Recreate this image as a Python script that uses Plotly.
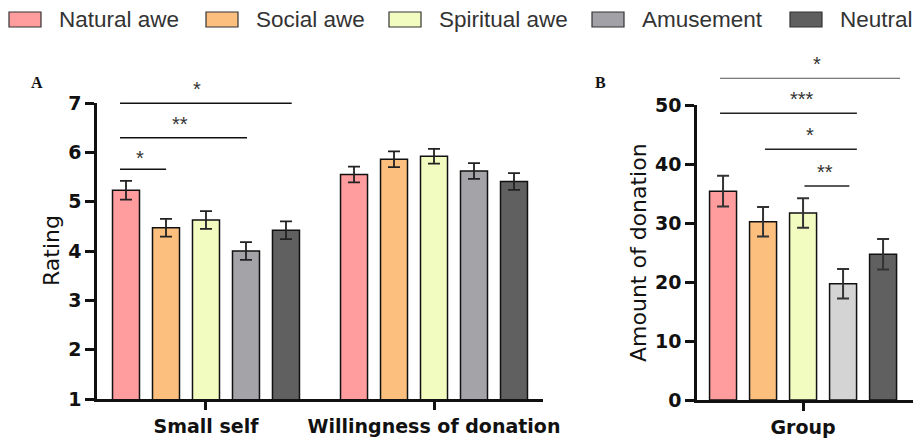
import plotly.graph_objects as go

# ---------------- data ----------------
conditions = ["Natural awe", "Social awe", "Spiritual awe", "Amusement", "Neutral"]
groups_a = ["Small self", "Willingness of donation"]
small_self = [5.23, 4.47, 4.63, 4.00, 4.42]
small_self_se = [0.19, 0.18, 0.18, 0.18, 0.18]
willingness = [5.55, 5.86, 5.92, 5.62, 5.41]
willingness_se = [0.16, 0.16, 0.15, 0.16, 0.17]
groups_b = ["Group"]
donation = [35.4, 30.2, 31.7, 19.7, 24.7]
donation_se = [2.6, 2.5, 2.5, 2.5, 2.6]
yticks_a = [1, 2, 3, 4, 5, 6, 7]
yticks_b = [0, 10, 20, 30, 40, 50]

colors_a = ["#FF9C9E", "#FDBF7E", "#F3FCC0", "#A4A3A8", "#606060"]
colors_b = ["#FF9C9E", "#FDBF7E", "#F3FCC0", "#D4D4D4", "#606060"]

# significance brackets: (x0, x1, y of line, label) in axis units
sig_a = [(-0.377, -0.175, 5.656, "*"),
         (-0.377, 0.180, 6.297, "**"),
         (-0.377, 0.376, 6.994, "*")]
sig_b = [(-0.364, 0.425, 54.53, "*"),
         (-0.364, 0.236, 48.59, "***"),
         (-0.167, 0.236, 42.49, "*"),
         (0.006, 0.203, 36.27, "**")]
star_x_a = [-0.29, -0.114, -0.04]
star_x_b = [0.061, -0.005, 0.03, 0.096]

W, H = 913, 440
dom_ax = [97 / W, 543 / W]
dom_ay = [(H - 399) / H, (H - 103) / H]
dom_bx = [697 / W, 1.0]
dom_by = [(H - 400) / H, (H - 105) / H]
range_ay = [1, 7]
range_by = [0, 50]


def to_paper(v, rng, dom):
    return dom[0] + (v - rng[0]) / (rng[1] - rng[0]) * (dom[1] - dom[0])


fig = go.Figure()
for i, c in enumerate(conditions):
    fig.add_trace(go.Bar(
        x=groups_a, y=[small_self[i], willingness[i]], name=c,
        marker=dict(color=colors_a[i], line=dict(color="#111111", width=1.5)),
        error_y=dict(type="data", array=[small_self_se[i], willingness_se[i]],
                     color="#222222", thickness=1.8, width=6),
        xaxis="x", yaxis="y", showlegend=False))
for i, c in enumerate(conditions):
    fig.add_trace(go.Bar(
        x=groups_b, y=[donation[i]], name=c,
        marker=dict(color=colors_b[i], line=dict(color="#111111", width=1.5)),
        error_y=dict(type="data", array=[donation_se[i]],
                     color="#333333", thickness=2, width=6),
        xaxis="x2", yaxis="y2", showlegend=False))

tickfont = dict(family="DejaVu Sans", size=19, color="#111111", weight="bold")
axis_common = dict(showline=True, linecolor="#111111", linewidth=2.5,
                   ticks="outside", tickwidth=2.5, tickcolor="#111111",
                   showgrid=False, zeroline=False, fixedrange=True, automargin=False)

fig.update_layout(
    width=W, height=H, autosize=False,
    margin=dict(l=0, r=0, t=0, b=0, pad=0, autoexpand=False),
    paper_bgcolor="white", plot_bgcolor="white", showlegend=False,
    barmode="group", bargap=0.123, bargroupgap=0.325,
    xaxis=dict(domain=dom_ax, type="category", range=[-0.478, 1.478],
               ticklen=8, tickfont=tickfont, anchor="y", **axis_common),
    yaxis=dict(domain=dom_ay, range=range_ay, tickvals=yticks_a, ticklen=9,
               tickfont=tickfont, anchor="x", **axis_common),
    xaxis2=dict(domain=dom_bx, type="category", range=[-0.465, 0.482],
                ticklen=8, tickfont=tickfont, anchor="y2", **axis_common),
    yaxis2=dict(domain=dom_by, range=range_by, tickvals=yticks_b, ticklen=9,
                tickfont=tickfont, anchor="x2", **axis_common),
)

shapes = []
annotations = []
star_font = dict(family="Liberation Sans", size=20, color="#333333")

# significance lines and stars
for k, (x0, x1, yl, lab) in enumerate(sig_a):
    yp = to_paper(yl, range_ay, dom_ay)
    shapes.append(dict(type="line", xref="x", yref="paper", x0=x0, x1=x1, y0=yp, y1=yp,
                       line=dict(color="#111111", width=1.6)))
    annotations.append(dict(xref="x", yref="paper", x=star_x_a[k], y=yp,
                            xanchor="center", yanchor="bottom", yshift=-2 if k == 0 else 1,
                            text=lab, showarrow=False, font=star_font))
for k, (x0, x1, yl, lab) in enumerate(sig_b):
    yp = to_paper(yl, range_by, dom_by)
    shapes.append(dict(type="line", xref="x2", yref="paper", x0=x0, x1=x1, y0=yp, y1=yp,
                       line=dict(color="#555555" if k == 0 else "#222222",
                                 width=1.0 if k == 0 else 1.6)))
    annotations.append(dict(xref="x2", yref="paper", x=star_x_b[k], y=yp,
                            xanchor="center", yanchor="bottom", yshift=1,
                            text=lab, showarrow=False, font=star_font))

# custom legend
legend_x = [9, 206, 389, 592, 790]
legend_colors = ["#FF9C9E", "#FDBF7E", "#F3FCC0", "#A2A1A7", "#5F5F5F"]
for i, c in enumerate(conditions):
    x0 = legend_x[i]
    shapes.append(dict(type="rect", xref="paper", yref="paper",
                       x0=x0 / W, x1=(x0 + 32) / W, y0=(H - 27) / H, y1=(H - 12) / H,
                       fillcolor=legend_colors[i], line=dict(color="#333333", width=1.2)))
    annotations.append(dict(xref="paper", yref="paper", x=(x0 + 48) / W, y=(H - 19) / H,
                            xanchor="left", yanchor="middle", text=c, showarrow=False,
                            font=dict(family="Liberation Sans", size=22.5, color="#333333")))

# axis titles
annotations.append(dict(xref="paper", yref="paper", x=51 / W, y=(H - 251) / H, text="Rating",
                        textangle=-90, showarrow=False, xanchor="center", yanchor="middle",
                        font=dict(family="DejaVu Sans", size=22, color="#111111")))
annotations.append(dict(xref="paper", yref="paper", x=639 / W, y=(H - 253) / H, text="Amount of donation",
                        textangle=-90, showarrow=False, xanchor="center", yanchor="middle",
                        font=dict(family="DejaVu Sans", size=22, color="#111111")))
# panel labels
annotations.append(dict(xref="paper", yref="paper", x=29 / W, y=(H - 72) / H, text="<b>A</b>",
                        showarrow=False, font=dict(family="Liberation Serif", size=16, color="#111111")))
annotations.append(dict(xref="paper", yref="paper", x=600 / W, y=(H - 72) / H, text="<b>B</b>",
                        showarrow=False, font=dict(family="Liberation Serif", size=16, color="#111111")))

fig.update_layout(shapes=shapes, annotations=annotations)
fig.write_html("out.html", config={"responsive": False, "displayModeBar": False},
               post_script="document.body.style.margin='0';document.body.style.padding='0';"
                           "document.documentElement.style.overflow='hidden';")
